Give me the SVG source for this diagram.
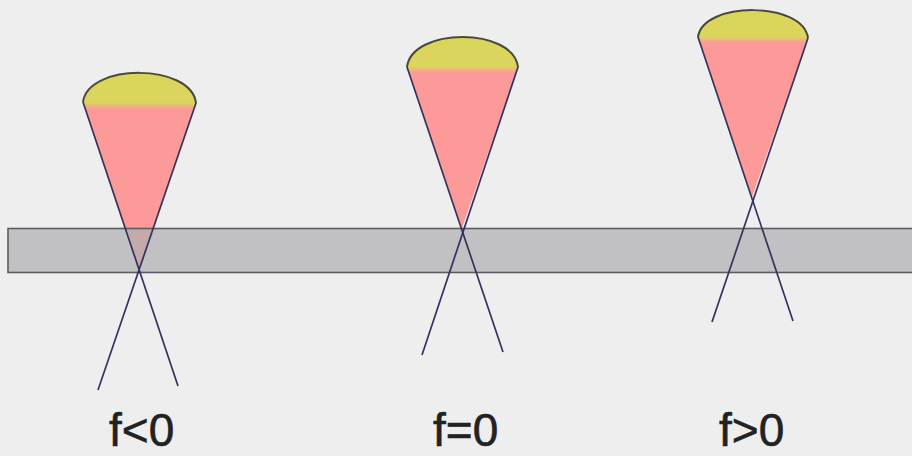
<svg xmlns="http://www.w3.org/2000/svg" width="912" height="456" viewBox="0 0 912 456">
  <defs>
    <linearGradient id="g1" gradientUnits="userSpaceOnUse" x1="0" y1="73" x2="0" y2="272">
      <stop offset="0" stop-color="#d9d65a"/>
      <stop offset="0.15" stop-color="#dcd45e"/>
      <stop offset="0.18" stop-color="#fb9a98"/>
      <stop offset="1" stop-color="#fb9a98"/>
    </linearGradient>
    <linearGradient id="g2" gradientUnits="userSpaceOnUse" x1="0" y1="37" x2="0" y2="228">
      <stop offset="0" stop-color="#d9d65a"/>
      <stop offset="0.155" stop-color="#dcd45e"/>
      <stop offset="0.185" stop-color="#fb9a98"/>
      <stop offset="1" stop-color="#fb9a98"/>
    </linearGradient>
    <linearGradient id="g3" gradientUnits="userSpaceOnUse" x1="0" y1="12" x2="0" y2="197">
      <stop offset="0" stop-color="#d9d65a"/>
      <stop offset="0.135" stop-color="#dcd45e"/>
      <stop offset="0.165" stop-color="#fb9a98"/>
      <stop offset="1" stop-color="#fb9a98"/>
    </linearGradient>
  </defs>
  <style>
    .bg { fill: #eeeeee; }
    .band { fill: #b0b0b4; fill-opacity: 0.72; stroke: #5c5c62; stroke-width: 1.6; }
    .cap { fill: none; stroke: #4a4a3a; stroke-width: 2; }
    .ray { stroke: #34345c; stroke-width: 1.7; fill: none; }
    .lbl { font-family: "Liberation Sans", Arial, sans-serif; font-size: 46px; fill: #222222; stroke: #222222; stroke-width: 0.6; }
  </style>
  <rect class="bg" x="0" y="0" width="912" height="456"/>

  <g id="cone-neg">
    <path d="M83 102 C 88 63, 191 63, 196 103 L 139 272 Z" fill="url(#g1)"/>
  </g>
  <g id="cone-zero">
    <path d="M407 67 C 412 27, 513 27, 518 67 L 462 228 Z" fill="url(#g2)"/>
  </g>
  <g id="cone-pos">
    <path d="M698 37 C 703 1, 803 1, 808 38 L 752 197 Z" fill="url(#g3)"/>
  </g>

  <g id="slab">
    <rect class="band" x="8" y="228.5" width="912" height="44"/>
  </g>

  <g id="connectors">
    <path class="cap" d="M83 102 C 88 63, 191 63, 196 103"/>
    <path class="cap" d="M407 67 C 412 27, 513 27, 518 67"/>
    <path class="cap" d="M698 37 C 703 1, 803 1, 808 38"/>
    <line class="ray" x1="83" y1="102" x2="178" y2="386"/>
    <line class="ray" x1="196" y1="103" x2="98" y2="390"/>
    <line class="ray" x1="407" y1="67" x2="503" y2="352"/>
    <line class="ray" x1="518" y1="67" x2="422" y2="355"/>
    <line class="ray" x1="698" y1="37" x2="793" y2="321"/>
    <line class="ray" x1="808" y1="38" x2="712" y2="322"/>
  </g>

  <g id="labels">
    <text class="lbl" x="109" y="446">f&lt;0</text>
    <text class="lbl" x="433" y="446">f=0</text>
    <text class="lbl" x="719" y="446">f&gt;0</text>
  </g>
</svg>
